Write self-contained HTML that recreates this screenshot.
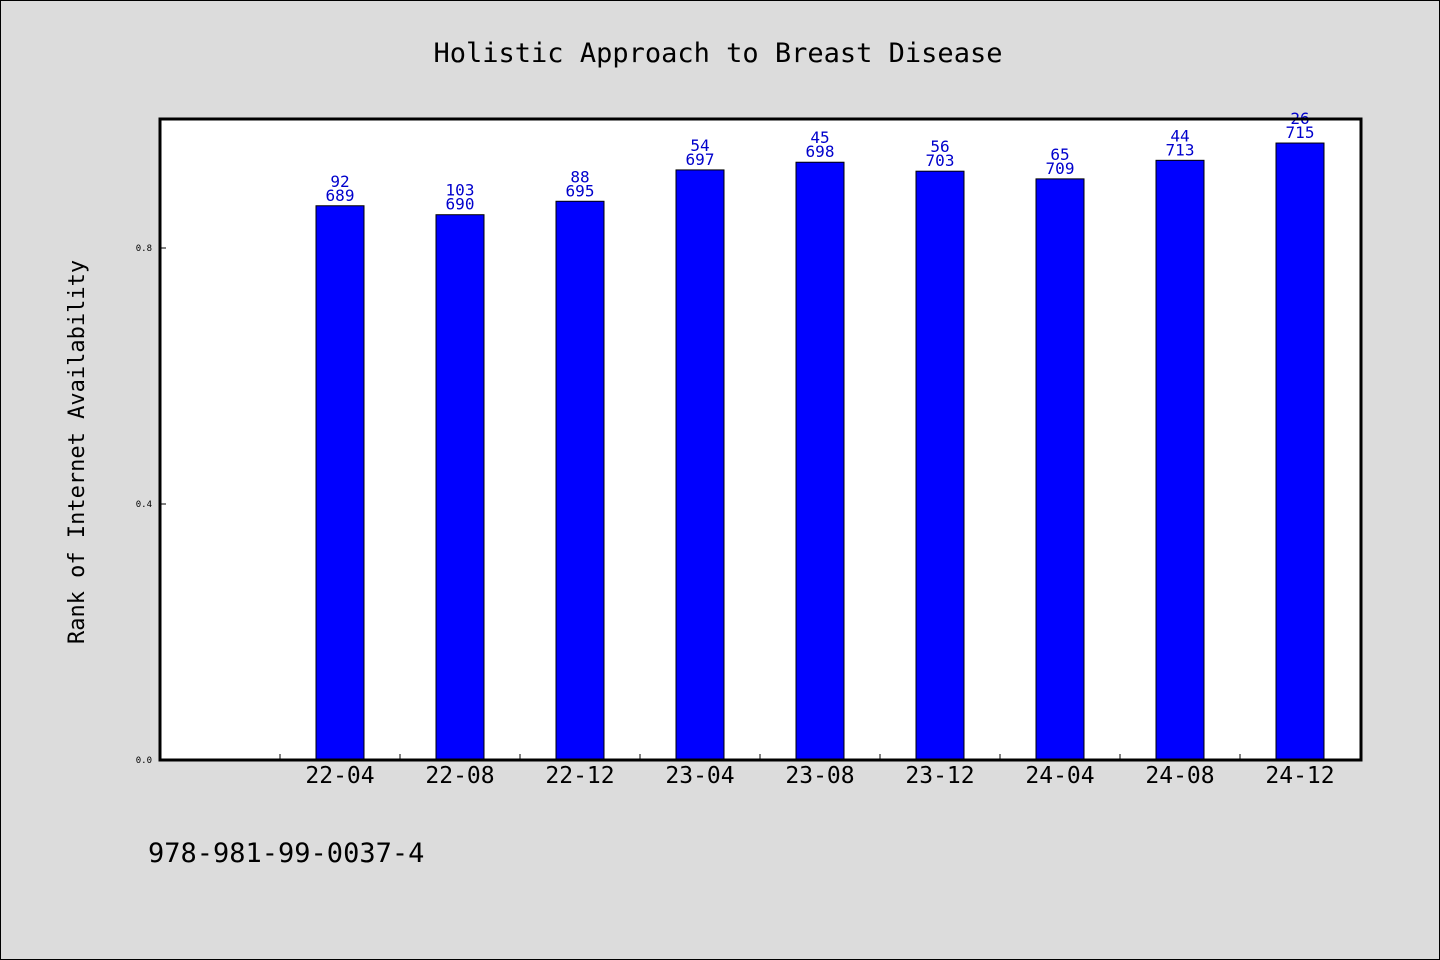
<!DOCTYPE html>
<html><head><meta charset="utf-8"><style>
html,body{margin:0;padding:0;background:#dcdcdc;}
svg{display:block;font-family:"WenQuanYi Zen Hei","DejaVu Sans Mono",monospace;}
</style></head><body>
<svg id="chart" width="1440" height="960" xmlns="http://www.w3.org/2000/svg">
<rect x="0.5" y="0.5" width="1439" height="959" fill="#dcdcdc" stroke="#000" stroke-width="1"/>
<text x="718" y="62" text-anchor="middle" font-size="27" fill="#000">Holistic Approach to Breast Disease</text>
<rect x="160" y="119" width="1201" height="641" fill="#fff"/>
<g id="bars"></g>
<g id="ticks"></g>
<rect x="160" y="119" width="1201" height="641" fill="none" stroke="#000" stroke-width="3"/>
<text transform="translate(84,452) rotate(-90)" text-anchor="middle" font-size="22" fill="#000">Rank of Internet Availability</text>
<text x="148" y="862" font-size="27" fill="#000">978-981-99-0037-4</text>
</svg>
<script>
const categories = ["22-04","22-08","22-12","23-04","23-08","23-12","24-04","24-08","24-12"];
const values = [0.866,0.852,0.873,0.922,0.934,0.920,0.908,0.937,0.964];
const topLabels = ["92","103","88","54","45","56","65","44","26"];
const bottomLabels = ["689","690","695","697","698","703","709","713","715"];
const yTicks = [0.0,0.4,0.8];
const yTickLabels = ["0.0","0.4","0.8"];

const NS="http://www.w3.org/2000/svg";
const x0=160, slot=120, yBase=760, pxPerUnit=640;
function xCenter(i){return x0+slot*(i+1.5);}
function yPos(v){return yBase-v*pxPerUnit;}
function mk(tag,attrs,parent){const e=document.createElementNS(NS,tag);for(const k in attrs)e.setAttribute(k,attrs[k]);parent.appendChild(e);return e;}
const bars=document.getElementById('bars'), ticks=document.getElementById('ticks');
categories.forEach((c,i)=>{
  const cx=xCenter(i), yt=yPos(values[i]);
  const r=mk('rect',{x:cx-24,y:yt,width:48,height:yBase-yt,fill:'#0000ff',stroke:'#000','stroke-width':1},bars);
  
  
  const t1=mk('text',{x:cx,y:yt-5,'text-anchor':'middle','font-size':16,fill:'#0000cc'},bars);
  t1.textContent=bottomLabels[i];
  
  
  const t2=mk('text',{x:cx,y:yt-19,'text-anchor':'middle','font-size':16,fill:'#0000cc'},bars);
  t2.textContent=topLabels[i];
  
  
  const xl=mk('text',{x:cx,y:783,'text-anchor':'middle','font-size':23,fill:'#000'},ticks);
  xl.textContent=c;
  
  
  const tk=mk('line',{x1:cx-60,x2:cx-60,y1:yBase,y2:yBase-6,stroke:'#000','stroke-width':1},ticks);
  
  
});
yTicks.forEach((v,i)=>{
  const y=yPos(v);
  const l=mk('line',{x1:160,x2:166,y1:y,y2:y,stroke:'#000','stroke-width':1},ticks);
  
  
  const t=mk('text',{x:152,y:y+3,'text-anchor':'end','font-size':9,fill:'#000'},ticks);
  t.textContent=yTickLabels[i];
  
  
});
</script>
</body></html>
